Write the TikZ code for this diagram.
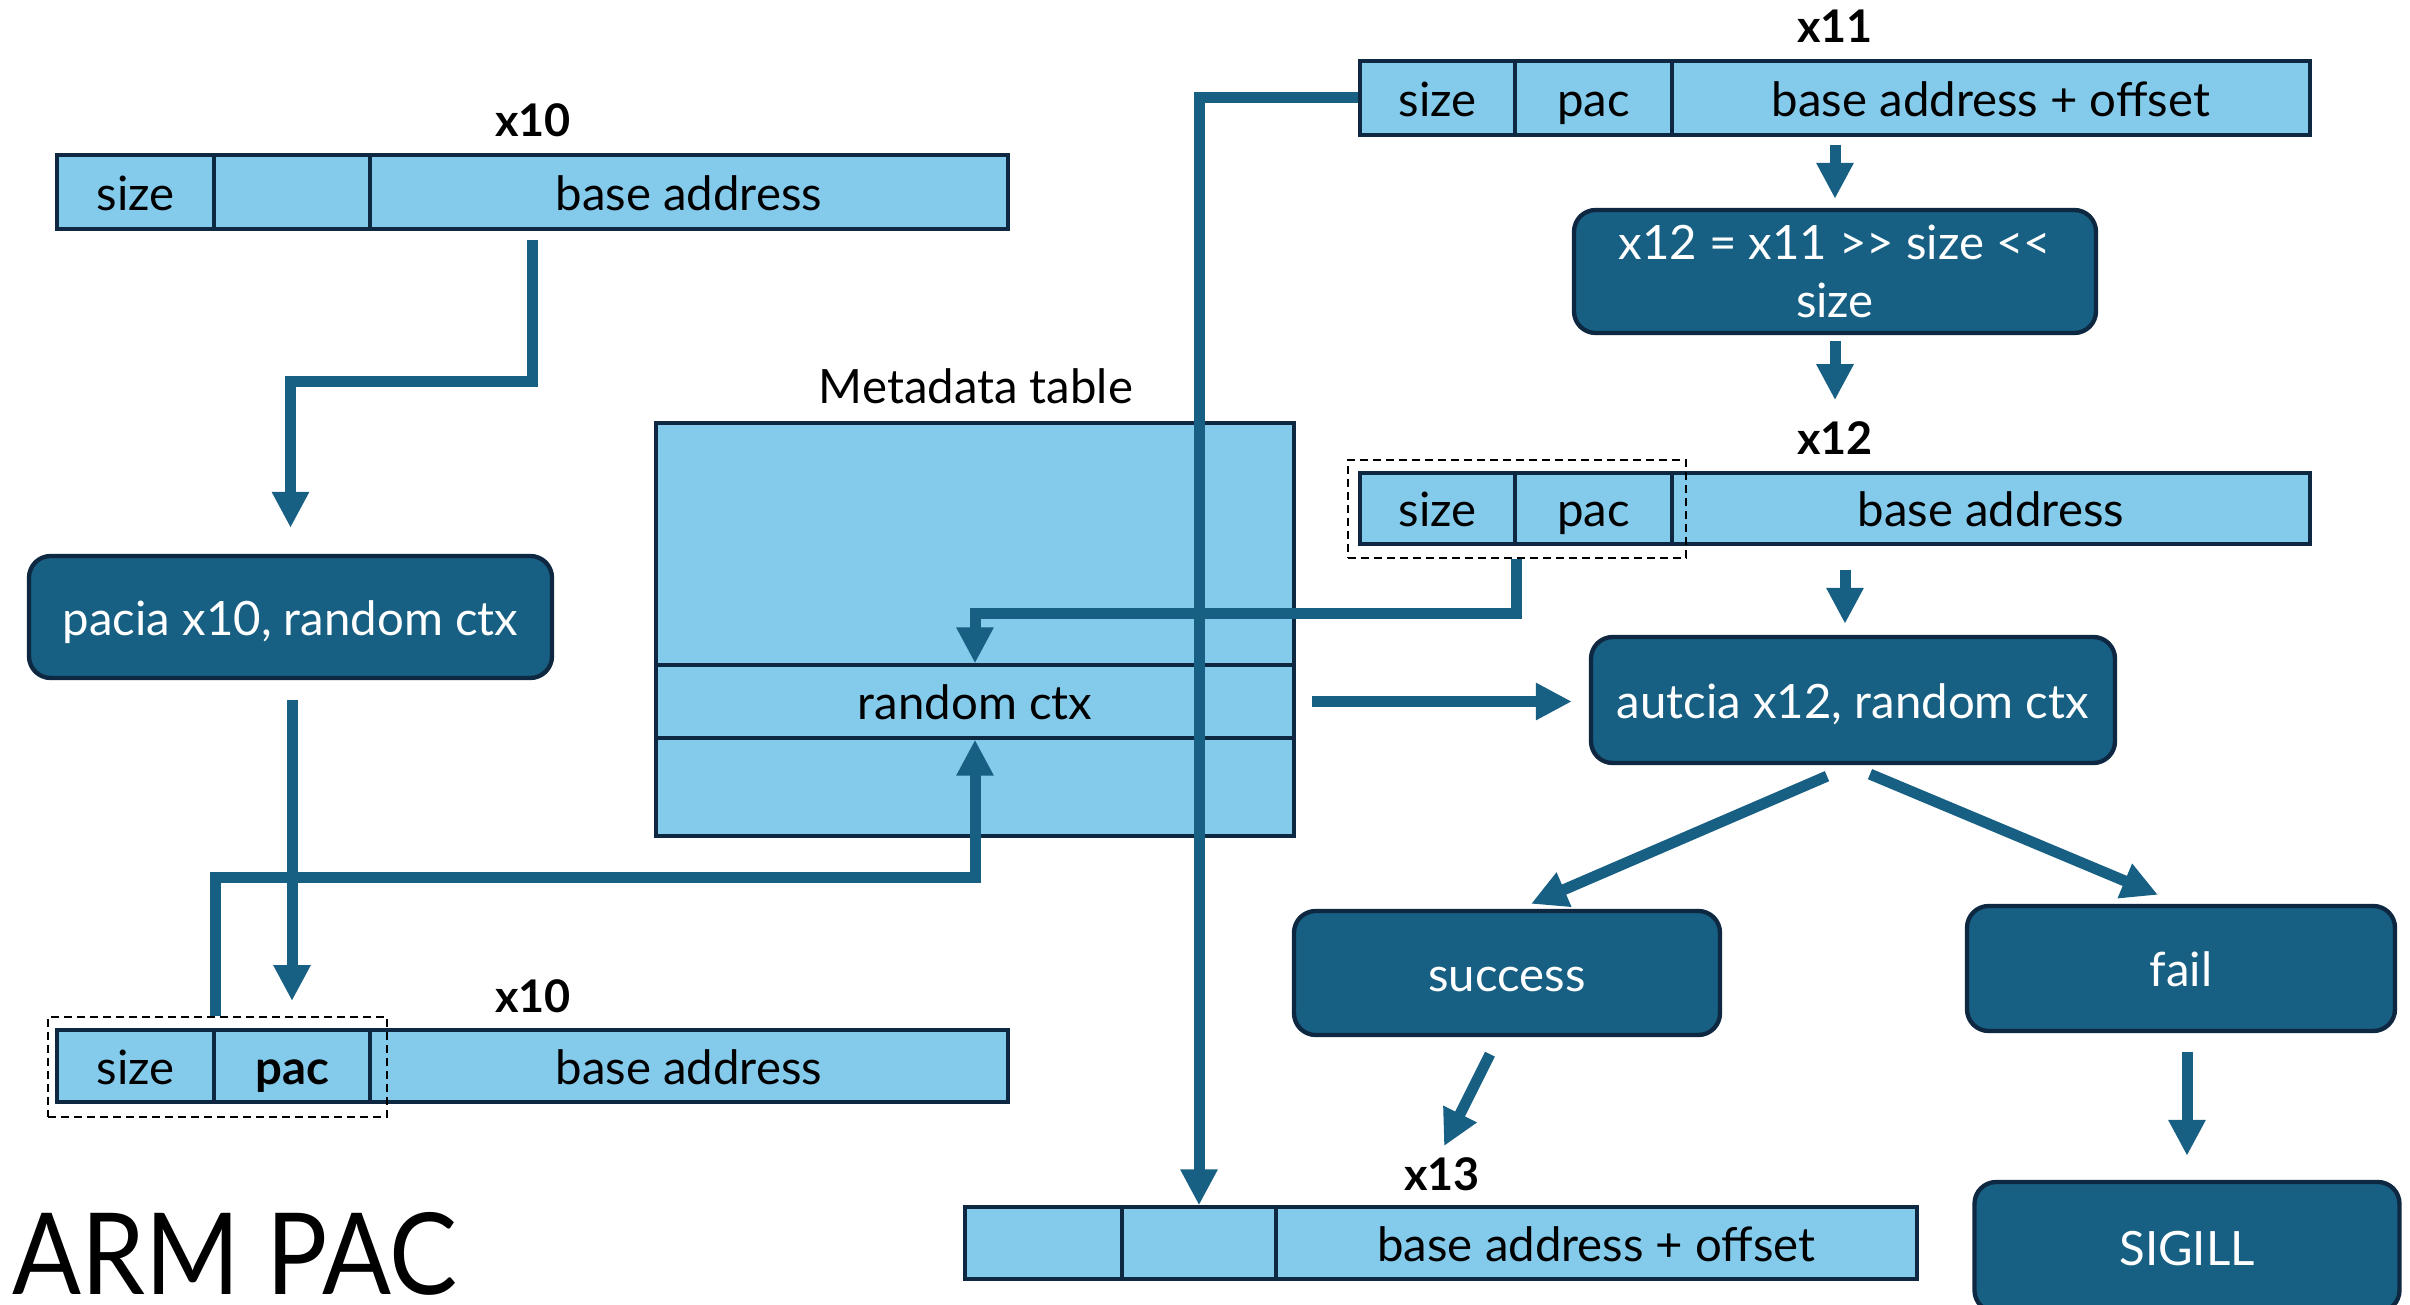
\documentclass[tikz,border=0pt]{standalone}
\usepackage{fontspec}
\setmainfont{Lato}
\newfontfamily\titlefont{Lato}[FakeStretch=0.9]
\usetikzlibrary{arrows.meta,calc}
\definecolor{cellfill}{HTML}{83CAEB}
\definecolor{boxfill}{HTML}{176083}
\definecolor{edgeclr}{HTML}{0E2841}
\definecolor{flowclr}{HTML}{176083}
\begin{document}
\begin{tikzpicture}[x=0.3pt,y=-0.3pt,
  font=\fontsize{14.2}{17.4}\selectfont,
  boxw/.style={minimum width=#1*0.3pt},
  boxh/.style={minimum height=#1*0.3pt},
  oneline/.style={text height=11pt, text depth=0pt},
  cell/.style={draw=edgeclr, fill=cellfill, line width=1pt, inner sep=0pt, text=black, oneline},
  opbox/.style={draw=edgeclr, fill=boxfill, line width=1.3pt, rounded corners=6.5pt,
                text=white, inner sep=0pt},
  regname/.style={font=\fontsize{13.5}{16}\selectfont\bfseries, inner sep=0pt},
  dashbox/.style={draw=black, line width=0.6pt, dash pattern=on 2.4pt off 1.5pt, inner sep=0pt},
  flowarrow/.style={draw=flowclr, line width=3.3pt, -{Triangle[length=10.8pt,width=10.5pt]}}
]
\useasboundingbox (0,0) rectangle (2410,1305);

% ---------- register x10 (before signing) ----------
\node[regname] (x10tl) at (533,120) {x10};
\node[cell, boxw=951, boxh=74] (x10t) at (532.5,192) {};
\node[cell, boxw=157, boxh=74] (x10ta) at (135.5,192) {size};
\node[cell, boxw=156, boxh=74] (x10tb) at (292,192) {};
\node[cell, boxw=638, boxh=74] (x10tc) at (689,192) {base address};

% ---------- pacia ----------
\node[opbox, oneline, boxw=523, boxh=122] (pacia) at (290.5,617) {pacia x10, random ctx};

% ---------- register x10 (signed) ----------
\node[regname] (x10bl) at (533,996) {x10};
\node[cell, boxw=951, boxh=72] (x10b) at (532.5,1066) {};
\node[cell, boxw=157, boxh=72] (x10ba) at (135.5,1066) {size};
\node[cell, boxw=156, boxh=72] (x10bb) at (292,1066) {\bfseries pac};
\node[cell, boxw=638, boxh=72] (x10bc) at (689,1066) {base address};
\node[dashbox, boxw=339, boxh=100] (x10bd) at (217.5,1067) {};

% ---------- metadata table ----------
\node[inner sep=0pt] (mlabel) at (976,386) {Metadata table};
\node[cell, boxw=638, boxh=242] (mtop) at (975,544) {};
\node[cell, boxw=638, boxh=73] (mctx) at (975,701.5) {random ctx};
\node[cell, boxw=638, boxh=98] (mbot) at (975,787) {};

% ---------- register x11 ----------
\node[regname] (x11l) at (1835,26) {x11};
\node[cell, boxw=950, boxh=74] (x11) at (1835,98) {};
\node[cell, boxw=155, boxh=74] (x11a) at (1437.5,98) {size};
\node[cell, boxw=157, boxh=74] (x11b) at (1593.5,98) {pac};
\node[cell, boxw=638, boxh=74] (x11c) at (1991,98) {base address + offset};

% ---------- strip the pac ----------
\node[opbox, align=center, boxw=522, boxh=123] (strip) at (1835,271.5)
  {x12 = x11 >\kern0pt> size <\kern0pt<\\size};

% ---------- register x12 ----------
\node[regname] (x12l) at (1835,438) {x12};
\node[cell, boxw=950, boxh=71] (x12) at (1835,508.5) {};
\node[cell, boxw=155, boxh=71] (x12a) at (1437.5,508.5) {size};
\node[cell, boxw=157, boxh=71] (x12b) at (1593.5,508.5) {pac};
\node[cell, boxw=638, boxh=71] (x12c) at (1991,508.5) {base address};
\node[dashbox, boxw=338, boxh=98] (x12d) at (1517,509) {};

% ---------- authentication ----------
\node[opbox, oneline, boxw=524, boxh=126] (autcia) at (1853,700) {autcia x12, random ctx};
\node[opbox, oneline, boxw=426, boxh=124] (success) at (1507,973) {success};
\node[opbox, oneline, boxw=428, boxh=125] (fail) at (2181,968.5) {fail};
\node[opbox, oneline, boxw=425, boxh=130] (sigill) at (2187,1247) {SIGILL};

% ---------- register x13 ----------
\node[regname] (x13l) at (1442,1174) {x13};
\node[cell, boxw=952, boxh=72] (x13) at (1441,1243) {};
\node[cell, boxw=157, boxh=72] (x13a) at (1043.5,1243) {};
\node[cell, boxw=154, boxh=72] (x13b) at (1199,1243) {};
\node[cell, boxw=641, boxh=72] (x13c) at (1596.5,1243) {base address + offset};

% ---------- title ----------
\node[anchor=base west, inner sep=0pt, text depth=0pt, font=\fontsize{34}{40}\titlefont] (title) at (12,1294) {ARM PAC};

% ---------- connectors ----------
\draw[flowarrow] ($(x10t.south)+(0,9)$) |- ($(pacia.north)+(0,-172)$) -- ($(pacia.north)+(0,-26)$);
\draw[flowarrow] ($(x10bb.north |- pacia.south)+(0,20)$) -- ($(x10bb.north |- x10bd.north)+(0,-15)$);
\draw[flowarrow] (x10bd.north -| x10ba.east) |- ($(mbot.south)+(0,40)$) -| (mctx.south);
\draw[flowarrow] (x12d.south -| x12a.east) -- ++(0,54) -| (mctx.north);
\draw[flowarrow, shorten <=4.8pt, shorten >=5.1pt] (mctx.east) -- (mctx.east -| autcia.west);
\draw[flowarrow] (x11a.west) -| (x13b.north);
\draw[flowarrow] ($(x11.south)+(0,8)$) -- ($(strip.north)+(0,-9)$);
\draw[flowarrow] ($(strip.south)+(0,6)$) -- ($(strip.south)+(0,65)$);
\draw[flowarrow] ($(x12d.south -| autcia.north)+(-8,11)$) -- ($(autcia.north)+(-8,-11)$);
\draw[flowarrow] ($(autcia.south)+(-26,11)$) -- ($(success.north)+(24,-5)$);
\draw[flowarrow] ($(autcia.south)+(17,9)$) -- ($(fail.north)+(-23,-9)$);
\draw[flowarrow] ($(success.south)+(-17,17)$) -- ($(success.south)+(-63,109)$);
\draw[flowarrow] ($(sigill.north)+(0,-128)$) -- ($(sigill.north)+(0,-24)$);
\end{tikzpicture}
\end{document}
